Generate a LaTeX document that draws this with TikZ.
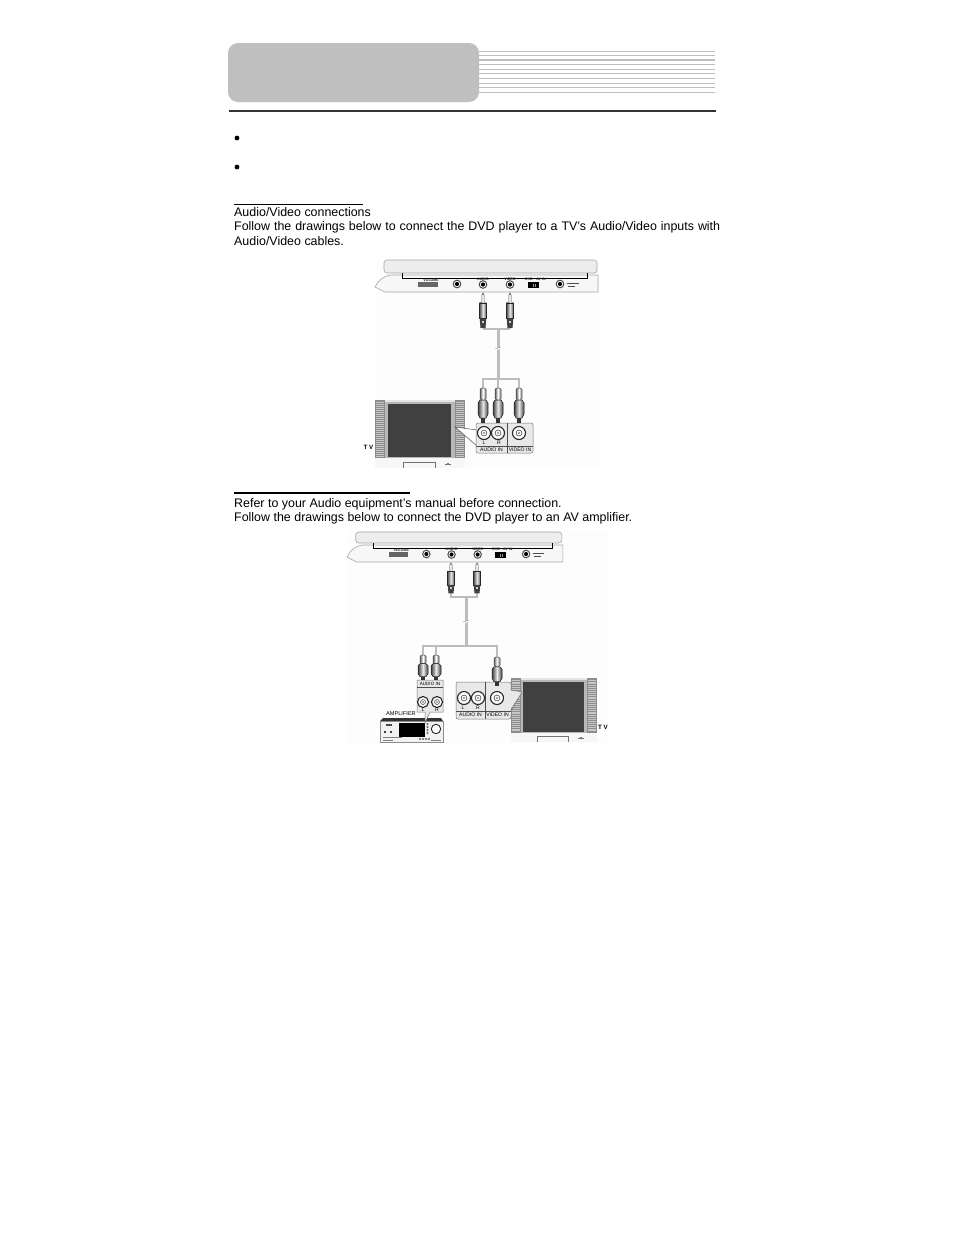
\documentclass[tikz,border=0pt]{standalone}
\usepackage{fontspec}
\setmainfont{Liberation Sans}[Ligatures=ResetAll]
\definecolor{hdr}{HTML}{BFBFBF}
\definecolor{lite}{HTML}{E8E8E8}
\definecolor{wire}{HTML}{BDBDBD}
\definecolor{scr}{HTML}{404040}
\definecolor{paper}{HTML}{FDFDFD}
\newcommand{\fsA}{\fontsize{3.6}{4}\bfseries\selectfont}
\newcommand{\fsB}{\fontsize{5.1}{6}\selectfont}
\tikzset{
  txt/.style={anchor=base west,inner sep=0pt,font=\fontsize{12.44}{14}\selectfont},
  mini/.style={inner sep=0pt,text=black!85,font=\fsA},
  lab/.style={inner sep=0pt,text=black,font=\fsB},
  tvlab/.style={inner sep=0pt,font=\fontsize{6.2}{7}\bfseries\selectfont},
  cable/.style={draw=wire,line width=1.5pt},
  stem/.style={draw=wire,line width=3pt},
  shell/.style={draw=black!55,line width=.5pt,fill=lite},
  body/.style={draw=black!35,line width=.6pt,fill=black!7},
}
\newcommand{\jack}[2]{%
  \draw[black!70,fill=white,line width=1pt] (#1,#2) circle (3.8);
  \fill[black] (#1,#2) circle (2.1);
}
% player: #1 prefix, #2 lid top (local), origin at base top-left
\newcommand{\player}[2]{%
  \draw[body,rounded corners=3pt] (9,#2) rectangle (222,-2);
  \draw[body,fill=black!3] (0,12) .. controls (3,6) and (8,1) .. (16,0) -- (223,0) -- (223,17) -- (10,17) -- cycle;
  \draw[black,line width=.8pt] (27,-2) -- (27,3) -- (212,3) -- (212,-2);
  \fill[black!60] (43,7) rectangle (63,12);
  \node[mini] (#1vol) at (56,5) {VOLUME};
  \jack{82}{9}
  \jack{108}{9.5}\node[mini] (#1aud) at (108,4.3) {AUDIO};
  \jack{135}{9.5}\node[mini] (#1vid) at (135,4.3) {VIDEO};
  \fill[black] (153,7) rectangle (164,13);
  \fill[black!40] (158,8.5) rectangle (159,11.5);
  \fill[black!40] (160,8.5) rectangle (161,11.5);
  \node[mini] (#1dvd) at (154,4.3) {DVD};
  \node[mini] (#1av) at (166,4.3) {AV IN};
  \jack{185}{9}
  \fill[black!70] (192,7.5) rectangle (204,8.6);
  \fill[black!70] (193,10.5) rectangle (200,11.5);
}
% 3.5 mm plug: x, top, yscale
\newcommand{\miniplug}[3]{%
  \begin{scope}[shift={(#1,#2)},yscale=#3]
    \draw[black!75,fill=white,line width=.5pt] (-1.1,2) -- (0,0) -- (1.1,2) -- (1.1,9) -- (-1.1,9) -- cycle;
    \shade[left color=black!65,right color=black!65,middle color=black!8,draw=black!85,line width=.5pt] (-3.3,9) rectangle (3.3,23);
    \fill[black!75] (-3.3,23) -- (3.3,23) -- (2.5,32) -- (-2.5,32) -- cycle;
    \fill[black!20] (-1,25) rectangle (1,27);
  \end{scope}}
% RCA plug: x, top, yscale
\newcommand{\rcaplug}[3]{%
  \begin{scope}[shift={(#1,#2)},yscale=#3]
    \shade[left color=black!60,right color=black!60,middle color=white,draw=black!75,line width=.5pt,rounded corners=1.5pt] (-3,0) rectangle (3,12);
    \shade[left color=black!75,right color=black!75,middle color=black!8,draw=black!90,line width=.5pt] (-3,12) -- (3,12) -- (5,15) -- (5,26) -- (3,30) -- (-3,30) -- (-5,26) -- (-5,15) -- cycle;
    \fill[black!80] (-2,30) rectangle (2,35);
  \end{scope}}
% socket: x, y, radius
\newcommand{\socket}[3]{%
  \draw[black!85,fill=white,line width=1.1pt] (#1,#2) circle (#3);
  \draw[black!70,line width=.6pt] (#1,#2) circle (#3*.45);
  \fill[black!70] (#1,#2) circle (#3*.15);
}
% TV: x, y, xscale, yscale
\newcommand{\tvset}[4]{%
  \begin{scope}[shift={(#1,#2)},xscale=#3,yscale=#4]
    \fill[black!10] (0,0) rectangle (90,58);
    \fill[black!3] (0,58) rectangle (90,68);
    \fill[black!45] (0,0) rectangle (10,58);
    \fill[black!45] (80,0) rectangle (90,58);
    \foreach \yy in {2,4,...,56} {
      \draw[black!22,line width=.5pt] (1,\yy) -- (9,\yy);
      \draw[black!22,line width=.5pt] (81,\yy) -- (89,\yy);
    }
    \fill[black!28] (10,2) rectangle (80,58);
    \fill[scr] (13,4) rectangle (76,57);
    \draw[black!55,line width=.5pt] (28,68) -- (28,62) -- (60,62) -- (60,68);
    \fill[black!55] (70,63.5) rectangle (76,64.5);
    \fill[black!55] (72,62.5) rectangle (74,63.5);
  \end{scope}}
\begin{document}
\begin{tikzpicture}[x=1pt,y=-1pt]
\useasboundingbox (0,0) rectangle (954,1235);
\fill[white] (0,0) rectangle (954,1235);
\fill[paper] (377,260) rectangle (600,468);
\fill[paper] (347,530) rectangle (608,743);
% header
\foreach \yy in {51,55.3,64.3,69,73.7,78.3,83,87.7,92.3} \draw[hdr,line width=.8pt] (470,\yy) -- (715,\yy);
\draw[hdr,line width=1.8pt] (470,59.7) -- (715,59.7);
\fill[hdr,rounded corners=10pt] (228,43) rectangle (479,102);
\draw[black!80,line width=1.8pt] (229,111) -- (716,111);
\fill[black] (237,138) circle (2.4);
\fill[black] (237,167) circle (2.4);
% section 1 text
\draw[black,line width=.8pt] (234,204.3) -- (363,204.3);
\node[txt] (t1) at (234,216) {Audio/Video connections};
\node[txt] (t2) at (234,230.5) {\makebox[486pt][s]{Follow the drawings below to connect the DVD player to a TV's Audio/Video inputs with}};
\node[txt] (t3) at (234,245) {Audio/Video cables.};
% section 2 text
\draw[black,line width=1.3pt] (234,493) -- (410,493);
\node[txt] (t4) at (234,507) {Refer to your Audio equipment's manual before connection.};
\node[txt] (t5) at (234,521.5) {Follow the drawings below to connect the DVD player to an AV amplifier.};
% ---------- diagram 1 ----------
\begin{scope}[shift={(375,275)}]\player{a}{-15}\end{scope}
\coordinate (a1) at (483,329);
\coordinate (a2) at (510,329);
\coordinate (a3) at (498,329);
\coordinate (a4) at (498,379);
\coordinate (a5) at (483,379);
\coordinate (a6) at (519,379);
\coordinate (a7) at (483,390);
\coordinate (a8) at (519,390);
\coordinate (a9) at (498,390);
\draw[cable] (a1) -- (a2);
\draw[cable] (a7) -- (a5) -- (a6) -- (a8);
\draw[cable] (a4) -- (a9);
\draw[stem] (a3) -- (a4);
\draw[white,line width=1pt] (495,350) .. controls (497,347.5) and (499,350.5) .. (501,348);
\draw[black!40,line width=.4pt] (495,349) .. controls (497,346.5) and (499,349.5) .. (501,347);
\miniplug{483}{293}{1.1}
\miniplug{510}{293}{1.1}
\tvset{375}{400}{1}{1}
\draw[black!70,fill=white,line width=.5pt] (455,427) -- (477,430) -- (477,446) -- cycle;
\draw[shell,rounded corners=2pt] (476,453) -- (476,423) -- (533,423) -- (533,453) -- cycle;
\draw[black!70,line width=.5pt] (476,446) -- (533,446) (507,423) -- (507,453);
\rcaplug{483}{388}{1}
\rcaplug{498}{388}{1}
\rcaplug{519}{388}{1}
\socket{484}{433}{6.5}
\socket{498}{433}{6.5}
\socket{519}{433}{6.5}
\node[lab] (aL) at (484,442.5) {L};
\node[lab] (aR) at (499,442.5) {R};
\node[lab] (aA) at (491.5,450) {AUDIO IN};
\node[lab] (aV) at (520,450) {VIDEO IN};
\node[tvlab] (aT) at (368.5,447) {T V};
% ---------- diagram 2 ----------
\begin{scope}[shift={(347,545)},xscale=.968]\player{b}{-13}\end{scope}
\coordinate (b1) at (451,597);
\coordinate (b2) at (477,597);
\coordinate (b1u) at (451,592);
\coordinate (b2u) at (477,592);
\coordinate (b3) at (466,597);
\coordinate (b4) at (466,646);
\coordinate (b5) at (423,646);
\coordinate (b6) at (497,646);
\coordinate (b7) at (423,657);
\coordinate (b8) at (497,659);
\coordinate (b9) at (436,646);
\coordinate (b10) at (436,657);
\draw[cable] (b1u) -- (b1) -- (b2) -- (b2u);
\draw[cable] (b7) -- (b5) -- (b6) -- (b8);
\draw[cable] (b9) -- (b10);
\draw[stem] (b3) -- (b4);
\draw[white,line width=1pt] (463,623) .. controls (465,620.5) and (467,623.5) .. (469,621);
\draw[black!40,line width=.4pt] (463,622) .. controls (465,619.5) and (467,622.5) .. (469,620);
\miniplug{451}{563}{.95}
\miniplug{477}{563}{.95}
% amplifier
\fill[black!80] (383,718) -- (441,718) -- (443,721) -- (380,721) -- cycle;
\draw[black!45,fill=black!5,line width=.4pt] (380,721) rectangle (443,742);
\fill[black] (399,723) rectangle (425,737);
\draw[black!85,fill=white,line width=.9pt] (436,729) circle (4.7);
\fill[black!70] (386,724) rectangle (392,726);
\fill[black] (385,732) circle (1.1);
\fill[black] (391,732) circle (1.1);
\foreach \xx in {420,423,426,429} \draw[black!70,line width=.4pt] (\xx,739) circle (.9);
\foreach \yy in {724,727,730,733} \draw[black!70,line width=.4pt] (427.5,\yy) circle (.8);
\fill[black!50] (383,736.5) rectangle (402,737.3);
\fill[black!50] (383,739.5) rectangle (393,740.3);
\fill[black!50] (431,739.5) rectangle (441,740.3);
% amplifier panel
\draw[shell,line width=.5pt] (417,680) -- (443,680) -- (443,712) -- (430,712) -- (425,723) -- (425,712) -- (417,712) -- cycle;
\draw[black!70,line width=.5pt] (417,687) -- (443,687);
\node[lab,font=\fontsize{4.6}{5}\selectfont] (bAA) at (430,683.5) {AUDIO IN};
\socket{423}{702}{5.5}
\socket{437}{702}{5.5}
\node[lab] (bAL) at (423,709.5) {L};
\node[lab] (bAR) at (437,709.5) {R};
\rcaplug{423}{655}{.72}
\rcaplug{436}{655}{.72}
\node[inner sep=0pt,font=\fontsize{5.6}{6}\selectfont] (bAmp) at (401,713.5) {AMPLIFIER};
% TV and panel
\tvset{511}{678}{.955}{.94}
\draw[shell,fill=lite,rounded corners=2pt] (456,719) -- (456,682) -- (511,682) -- (511,719) -- cycle;
\fill[lite] (509,690) -- (522,692) -- (509,711) -- cycle;
\draw[black!55,line width=.5pt] (511,690) -- (522,692) -- (511,711);
\draw[black!70,line width=.5pt] (456,711) -- (511,711) (485,682) -- (485,719);
\rcaplug{497}{657}{.82}
\socket{464}{698}{6.5}
\socket{478}{698}{6.5}
\socket{497}{698}{6.5}
\node[lab] (bL) at (463,708) {L};
\node[lab] (bR) at (478,708) {R};
\node[lab] (bA) at (470.5,715) {AUDIO IN};
\node[lab] (bV) at (497.5,715) {VIDEO IN};
\node[tvlab] (bT) at (603,727) {T V};
\end{tikzpicture}
\end{document}
